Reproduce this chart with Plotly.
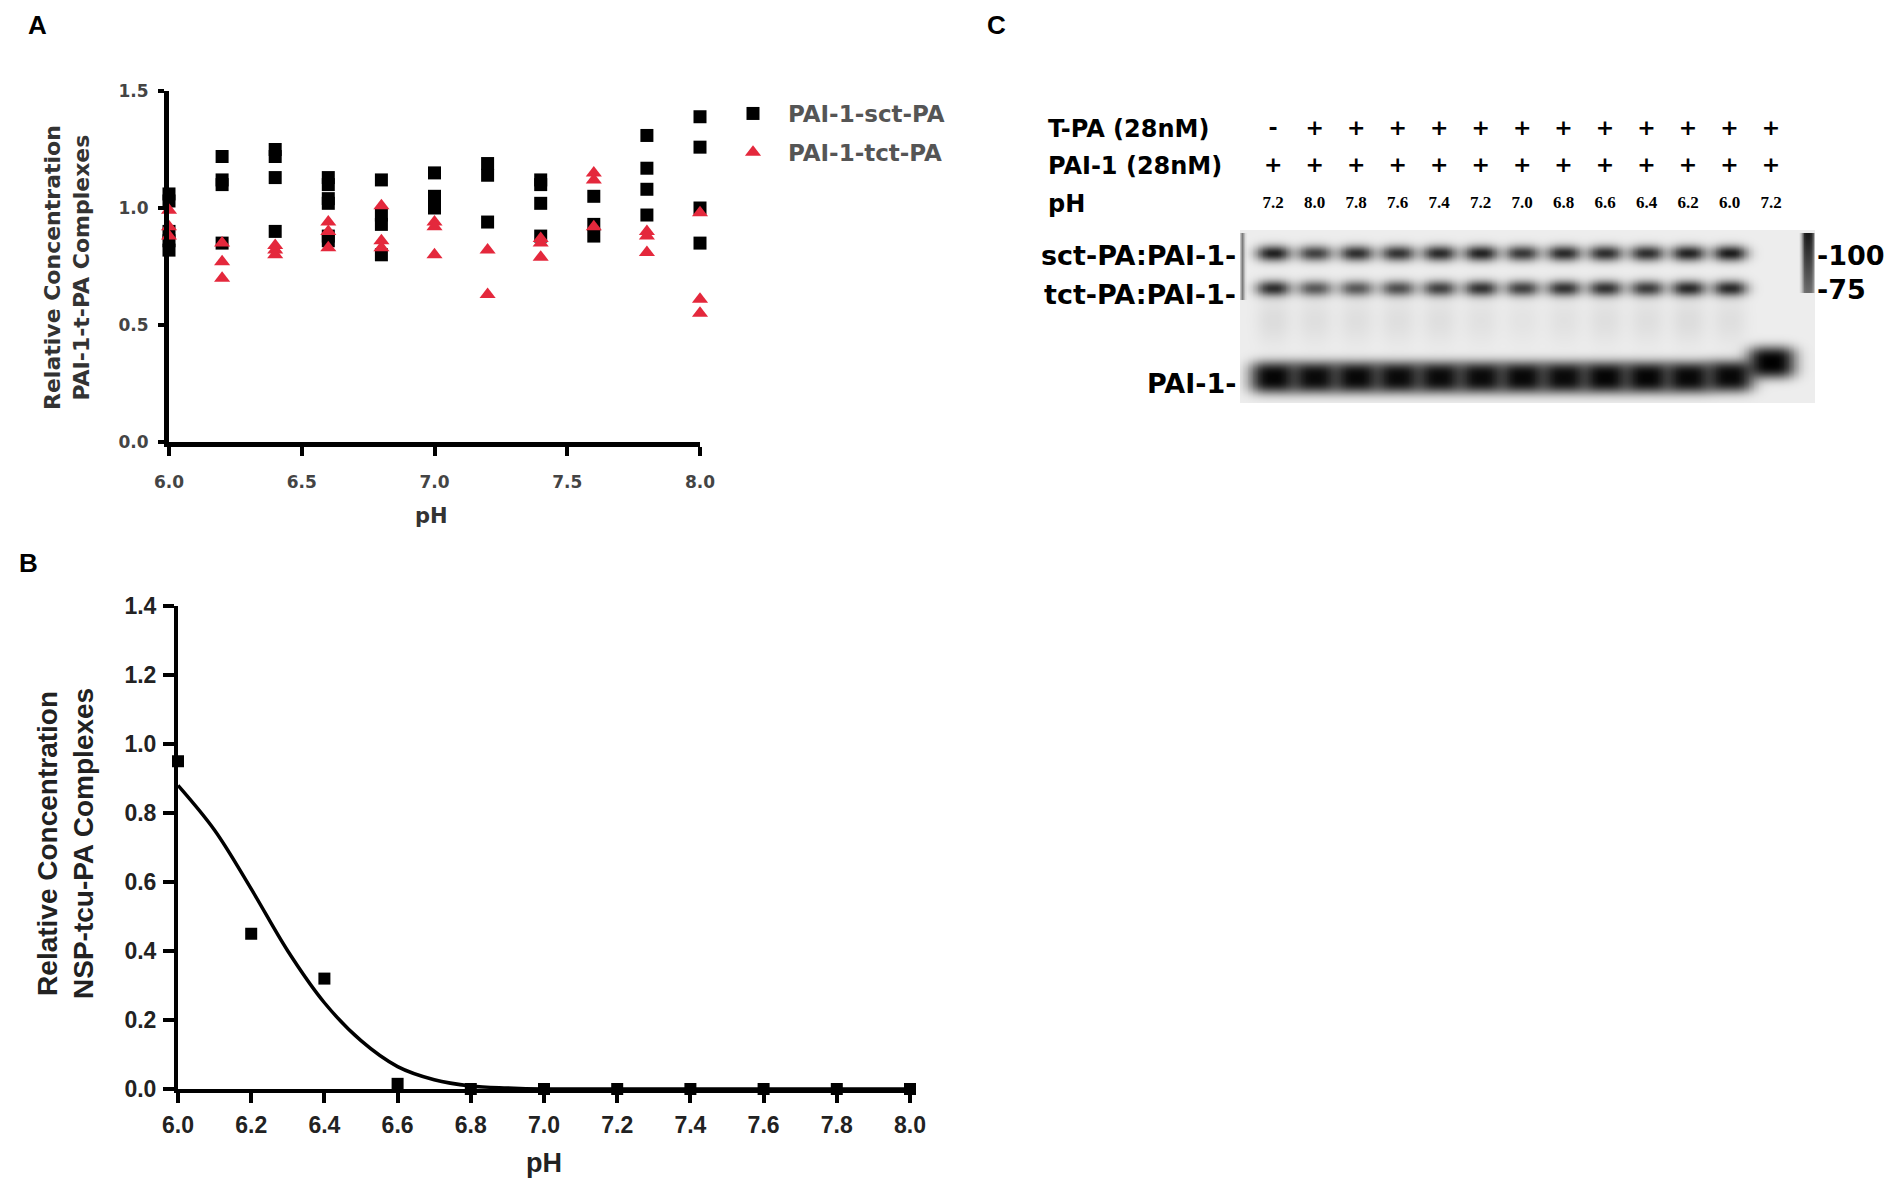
import numpy as np
import plotly.graph_objects as go

W, H = 1900, 1195

# ---- panel A: relative PAI-1 / t-PA complexes vs pH ----
ph_a = [6.0, 6.2, 6.4, 6.6, 6.8, 7.0, 7.2, 7.4, 7.6, 7.8, 8.0]
sct_a = [
    [1.06, 1.03, 0.90, 0.86, 0.82],
    [1.22, 1.12, 1.10, 0.85],
    [1.25, 1.22, 1.13, 0.90],
    [1.13, 1.10, 1.04, 1.02, 0.88, 0.86],
    [1.12, 0.97, 0.93, 0.80],
    [1.15, 1.05, 1.02, 1.00],
    [1.19, 1.14, 0.94],
    [1.12, 1.10, 1.02, 0.88],
    [1.05, 0.93, 0.88],
    [1.31, 1.17, 1.08, 0.97],
    [1.39, 1.26, 1.00, 0.85],
]
tct_a = [
    [0.99, 0.92, 0.88],
    [0.85, 0.77, 0.70],
    [0.84, 0.82, 0.80],
    [0.94, 0.90, 0.83],
    [1.01, 0.86, 0.83],
    [0.94, 0.92, 0.80],
    [0.82, 0.63],
    [0.87, 0.85, 0.79],
    [1.15, 1.12, 0.92],
    [0.90, 0.88, 0.81],
    [0.98, 0.61, 0.55],
]

# ---- panel B: NSP-tcu-PA complexes vs pH ----
ph_b = [6.0, 6.2, 6.4, 6.6, 6.8, 7.0, 7.2, 7.4, 7.6, 7.8, 8.0]
nsp_b = [0.95, 0.45, 0.32, 0.015, 0.0, 0.0, 0.0, 0.0, 0.0, 0.0, 0.0]
fit_ph = [6.0, 6.1, 6.2, 6.3, 6.4, 6.5, 6.6, 6.7, 6.8, 6.9, 7.0, 7.5, 8.0]
fit_val = [0.88, 0.75, 0.58, 0.40, 0.25, 0.14, 0.065, 0.027, 0.009, 0.003, 0.0, 0.0, 0.0]

# ---- panel C: western blot lanes ----
lane_ph = ["7.2", "8.0", "7.8", "7.6", "7.4", "7.2", "7.0", "6.8", "6.6", "6.4", "6.2", "6.0", "7.2"]
tpa_sign = ["-"] + ["+"] * 12
pai_sign = ["+"] * 13
sct_band = [0.86, 0.72, 0.80, 0.78, 0.82, 0.85, 0.76, 0.82, 0.80, 0.80, 0.85, 0.88, 0.0]
tct_band = [0.80, 0.62, 0.62, 0.66, 0.72, 0.78, 0.72, 0.78, 0.78, 0.74, 0.82, 0.82, 0.0]
pai_band = [0.98, 0.96, 0.97, 0.96, 0.96, 0.96, 0.97, 0.96, 0.98, 0.98, 0.97, 0.97, 1.0]
pai_pos = [147, 147, 147, 147, 147, 147, 147, 147, 147, 147, 147, 146, 132]  # migration, px below gel top
smear = [0.07, 0.06, 0.06, 0.06, 0.06, 0.05, 0.04, 0.05, 0.06, 0.06, 0.07, 0.06, 0.0]
marker_dark = [0.92, 0.55]  # ladder lane, top -> bottom


def px(x):
    return x / W


def py(y):
    return 1 - y / H


fig = go.Figure()

# panel A scatter
xs, ys = [], []
for p, vals in zip(ph_a, sct_a):
    xs += [p] * len(vals)
    ys += vals
fig.add_trace(go.Scatter(x=xs, y=ys, mode="markers", name="PAI-1-sct-PA",
                         marker=dict(symbol="square", size=13, color="black"),
                         cliponaxis=False, legendgroup="a"))
xs, ys = [], []
for p, vals in zip(ph_a, tct_a):
    xs += [p] * len(vals)
    ys += vals
fig.add_trace(go.Scatter(x=xs, y=ys, mode="markers", name="PAI-1-tct-PA",
                         marker=dict(symbol="triangle-up", size=14, color="#e4283c"),
                         cliponaxis=False, legendgroup="b"))

# panel B
fig.add_trace(go.Scatter(x=fit_ph, y=fit_val, mode="lines", line=dict(color="black", width=3.5, shape="spline"),
                         xaxis="x2", yaxis="y2", showlegend=False, cliponaxis=False))
fig.add_trace(go.Scatter(x=ph_b, y=nsp_b, mode="markers", marker=dict(symbol="square", size=12, color="black"),
                         xaxis="x2", yaxis="y2", showlegend=False, cliponaxis=False))

# panel C gel as a smoothed intensity map (y = px below gel top)
lanes = list(range(1, 14))
gx = np.arange(0.2, 14.07, 0.04)
gy = np.arange(0, 174, 1.0)
X, Y = np.meshgrid(gx, gy)
dark = np.full(X.shape, 0.07)


def add(d, v):
    return 1 - (1 - d) * (1 - v)


def bump(d, width, power):
    return np.exp(-(np.abs(d) / width) ** power)


for i, lane in enumerate(lanes):
    hx = bump(X - lane, 0.42, 2.6)
    hw = bump(X - lane, 0.58, 3)
    dark = add(dark, sct_band[i] * hx * bump(Y - 23, 8.0, 2))
    dark = add(dark, tct_band[i] * hx * bump(Y - 58, 8.0, 2))
    dark = add(dark, smear[i] * hx * bump(Y - 90, 24, 2))
    dark = add(dark, pai_band[i] * hw * bump(Y - pai_pos[i], 16, 3))
ladder = bump(X - 13.88, 0.15, 4) * (Y > 2) * (Y < 63)
dark = add(dark, ladder * (marker_dark[0] + (marker_dark[1] - marker_dark[0]) * Y / 62))
edge = bump(X - 0.25, 0.05, 2) * (Y > 2) * (Y < 70)
dark = add(dark, 0.5 * edge)

fig.add_trace(go.Heatmap(x=gx, y=gy, z=dark, zmin=0, zmax=1, zsmooth="best", showscale=False,
                         colorscale=[[0, "#ffffff"], [1, "#000000"]], xaxis="x3", yaxis="y3",
                         hoverinfo="skip"))

# lane header rows above the gel (own axes, same lane scale)
head_font = dict(family="DejaVu Sans", size=22, color="black", weight="bold")
fig.add_trace(go.Scatter(x=lanes, y=[-101] * 13, text=tpa_sign, mode="text", textfont=head_font,
                         xaxis="x4", yaxis="y4", showlegend=False))
fig.add_trace(go.Scatter(x=lanes, y=[-64] * 13, text=pai_sign, mode="text", textfont=head_font,
                         xaxis="x4", yaxis="y4", showlegend=False))
fig.add_trace(go.Scatter(x=lanes, y=[-26] * 13, text=lane_ph, mode="text",
                         textfont=dict(family="Liberation Serif", size=17, color="black", weight="bold"),
                         xaxis="x4", yaxis="y4", showlegend=False))

# axes
a_tick = dict(family="DejaVu Sans", size=17, color="#444", weight="bold")
b_tick = dict(family="Liberation Sans", size=23, color="#222", weight="bold")
common = dict(showgrid=False, zeroline=False, showline=True, linecolor="black", ticks="outside",
              tickcolor="black", tickformat=".1f", automargin=False)
fig.update_layout(
    width=W, height=H, margin=dict(l=0, r=0, t=0, b=0, autoexpand=False),
    paper_bgcolor="white", plot_bgcolor="white",
    xaxis=dict(domain=[px(169), px(700)], range=[6, 8], tickvals=[6.0, 6.5, 7.0, 7.5, 8.0],
               linewidth=5, ticklen=9, tickwidth=4, tickfont=a_tick, ticklabelstandoff=12,
               anchor="y", **common),
    yaxis=dict(domain=[py(442), py(91)], range=[0, 1.5], tickvals=[0, 0.5, 1.0, 1.5],
               linewidth=5, ticklen=6, tickwidth=4, tickfont=a_tick, ticklabelstandoff=6,
               anchor="x", **common),
    xaxis2=dict(domain=[px(178), px(910)], range=[6, 8], dtick=0.2, tick0=6,
                linewidth=4, ticklen=10, tickwidth=4, tickfont=b_tick, ticklabelstandoff=2,
                anchor="y2", **common),
    yaxis2=dict(domain=[py(1089), py(606)], range=[0, 1.4], dtick=0.2, tick0=0,
                linewidth=4, ticklen=11, tickwidth=4, tickfont=b_tick, ticklabelstandoff=2,
                anchor="x2", **common),
    xaxis3=dict(domain=[px(1240), px(1815)], range=[0.2, 14.06], visible=False, anchor="y3",
                automargin=False),
    yaxis3=dict(domain=[py(403), py(230)], range=[173, 0], visible=False, anchor="x3", automargin=False),
    xaxis4=dict(domain=[px(1240), px(1815)], range=[0.2, 14.06], visible=False, anchor="y4",
                automargin=False),
    yaxis4=dict(domain=[py(230), py(100)], range=[0, -130], visible=False, anchor="x4", automargin=False),
    legend=dict(x=px(718), y=py(92), xanchor="left", yanchor="top", traceorder="grouped",
                tracegroupgap=6, itemwidth=60, bgcolor="rgba(0,0,0,0)",
                font=dict(family="DejaVu Sans", size=23, color="#555", weight="bold")),
)

ann = []


def label(text, x, y, size, family="Liberation Sans", xanchor="center", angle=0, color="black"):
    ann.append(dict(text=text, x=px(x), y=py(y), xref="paper", yref="paper", showarrow=False,
                    xanchor=xanchor, yanchor="middle", textangle=angle,
                    font=dict(family=family, size=size, color=color, weight="bold")))


label("A", 37, 25, 26)
label("B", 28, 563, 26)
label("C", 996, 25, 26)
label("Relative Concentration<br>PAI-1-t-PA Complexes", 67, 268, 22, "DejaVu Sans", angle=-90, color="#333")
label("pH", 431, 516, 21, "DejaVu Sans", color="#333")
label("Relative Concentration<br>NSP-tcu-PA Complexes", 65, 844, 28, angle=-90, color="#222")
label("pH", 544, 1163, 27, color="#222")
label("T-PA (28nM)", 1046, 129, 24, "DejaVu Sans", xanchor="left")
label("PAI-1 (28nM)", 1046, 166, 24, "DejaVu Sans", xanchor="left")
label("pH", 1046, 204, 24, "DejaVu Sans", xanchor="left")
label("sct-PA:PAI-1-", 1238, 256, 27, "DejaVu Sans", xanchor="right")
label("tct-PA:PAI-1-", 1238, 294, 27, "DejaVu Sans", xanchor="right")
label("PAI-1-", 1238, 383, 27, "DejaVu Sans", xanchor="right")
label("-100", 1815, 256, 27, "DejaVu Sans", xanchor="left")
label("-75", 1815, 290, 27, "DejaVu Sans", xanchor="left")
fig.update_layout(annotations=ann)

fig.write_html("out.html", config={"displayModeBar": False},
               post_script="document.body.style.margin='0px';")
